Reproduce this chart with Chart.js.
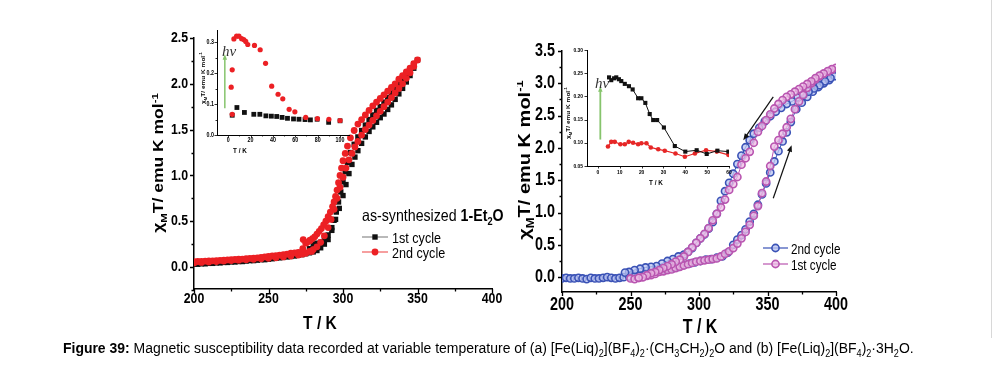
<!DOCTYPE html>
<html>
<head>
<meta charset="utf-8">
<title>Figure 39</title>
<script src="https://cdn.jsdelivr.net/npm/chart.js@4.4.1/dist/chart.umd.min.js"></script>
<style>
  html, body { margin: 0; padding: 0; background: #fff; }
  body { position: relative; width: 1001px; height: 377px; overflow: hidden; }
  canvas { position: absolute; }
  .t { position: absolute; white-space: nowrap; color: #000; line-height: 1; font-family: 'Liberation Sans', Arial, sans-serif; }
  .b { font-weight: bold; }
  .serif { font-family: 'Liberation Serif', 'DejaVu Serif', serif; font-style: italic; color: #333; }
  sub, sup { font-size: 65%; line-height: 0; }
  #clipR { position: absolute; left: 517px; top: 0; width: 40px; height: 330px; overflow: hidden; }
  #edge { position: absolute; left: 991px; top: 0; width: 1px; height: 338px; background: #d8d8d8; }
  #caption { left: 63px; top: 340px; font-size: 15.5px; transform: scaleX(0.9); transform-origin: 0 0; }
</style>
</head>
<body>
<canvas id="mainA" width="412" height="330" style="left:100px;top:10px"></canvas>
<canvas id="insetA" width="165" height="135" style="left:190px;top:22px"></canvas>
<canvas id="mainB" width="345" height="330" style="left:515px;top:10px"></canvas>
<canvas id="insetB" width="175" height="145" style="left:560px;top:40px"></canvas>
<div id="clipR"></div>
<div id="edge"></div>
<div id="caption" class="t"><b>Figure 39:</b> Magnetic susceptibility data recorded at variable temperature of (a) [Fe(Liq)<sub>2</sub>](BF<sub>4</sub>)<sub>2</sub>·(CH<sub>3</sub>CH<sub>2</sub>)<sub>2</sub>O and (b) [Fe(Liq)<sub>2</sub>](BF<sub>4</sub>)<sub>2</sub>·3H<sub>2</sub>O.</div>
<script>
// ---- tick labels ----
const xTicksMain = [200, 250, 300, 350, 400];
const xMinorMain = [225, 275, 325, 375];
const yTicksA = [0, 0.5, 1, 1.5, 2, 2.5];
const yMinorA = [-0.25, 0.25, 0.75, 1.25, 1.75, 2.25];
const yTicksB = [0, 0.5, 1, 1.5, 2, 2.5, 3, 3.5];
const yMinorB = [0.25, 0.75, 1.25, 1.75, 2.25, 2.75, 3.25];
const xTicksInsetA = [0, 20, 40, 60, 80, 100];
const xMinorInsetA = [10, 30, 50, 70, 90];
const yTicksInsetA = [0, 0.1, 0.2, 0.3];
const yMinorInsetA = [0.05, 0.15, 0.25];
const xTicksInsetB = [0, 10, 20, 30, 40, 50, 60];
const yTicksInsetB = [0.05, 0.1, 0.15, 0.2, 0.25, 0.3];

// ---- (a) main: 1st cycle (black squares) ----
const tCycle1A = [200,202.5,205,207.5,210,212.5,215,217.5,220,222.5,225,227.5,230,232.5,235,237.5,240,242.5,245,247.5,
  250,252.5,255,257.5,260,262.5,265,267.5,270,272.5,275,277.5,280,282.5,285,287.5,
  290,292.5,295,297.5,300,302,304,306,308,310,312.5,315,317.5,320,322.5,325,327.5,330,332.5,335,337.5,340,342.5,345,347.5,350,
  347.5,345,342.5,340,337.5,335,332.5,330,327.5,325,322.5,320,317.5,315,312.5,310,307.5,305,303,301.5,300,298.5,297,295.5,294,292.5,290,287.5,285,282.5,280,277.5];
const chiCycle1A = [0.03,0.03,0.035,0.035,0.04,0.04,0.045,0.045,0.05,0.05,0.055,0.055,0.06,0.06,0.065,0.07,0.07,0.075,0.08,0.08,
  0.085,0.09,0.095,0.10,0.105,0.11,0.115,0.12,0.13,0.135,0.145,0.155,0.165,0.18,0.21,0.25,
  0.30,0.40,0.52,0.64,0.78,0.90,1.02,1.12,1.20,1.27,1.35,1.42,1.48,1.53,1.58,1.63,1.67,1.72,1.77,1.83,1.89,1.95,2.02,2.09,2.17,2.26,
  2.22,2.16,2.10,2.05,2.00,1.95,1.90,1.85,1.80,1.75,1.71,1.66,1.61,1.55,1.49,1.42,1.34,1.25,1.14,1.04,0.93,0.82,0.71,0.60,0.51,0.43,0.35,0.30,0.27,0.26,0.25,0.20];

// ---- (a) main: 2nd cycle (red circles) ----
const tCycle2A = [200,205,210,215,220,225,230,235,240,245,250,255,260,265,270,272.5,275,277.5,280,282.5,285,287.5,290,
  292,294,296,298,300,302,304,306,308,310,312.5,315,317.5,320,322.5,325,327.5,330,332.5,335,337.5,340,342.5,345,347.5,350,
  273.3,277.7,278.9,273,275,
  347.5,345,342.5,340,337.5,335,332.5,330,327.5,325,322.5,320,317.5,315,312.5,310,307.5,305,303,301.5,
  300,299,298,297,296,295,294,293,291.5,290,288.5,287,285.5,284,282.5,281,279.5,278,276,270,
  267.5,265,262.5,260,257.5,255,252.5,250,247.5,245,242.5,240,237.5,235,232.5,230,227.5,225,222.5,220,
  217.5,215,212.5,210,207.5,205,202.5,200];
const chiCycle2A = [0.045,0.05,0.055,0.06,0.065,0.07,0.075,0.08,0.085,0.09,0.095,0.10,0.11,0.12,0.13,0.14,0.15,0.17,0.19,0.22,0.27,0.34,0.43,
  0.52,0.63,0.75,0.87,0.98,1.08,1.17,1.24,1.31,1.37,1.44,1.50,1.55,1.60,1.65,1.70,1.75,1.80,1.85,1.90,1.95,2.00,2.06,2.12,2.19,2.26,
  0.30,0.29,0.17,0.20,0.26,
  2.22,2.17,2.13,2.09,2.05,2.00,1.96,1.92,1.88,1.84,1.80,1.76,1.71,1.66,1.61,1.56,1.49,1.41,1.32,1.24,
  1.16,1.08,1.00,0.92,0.84,0.77,0.71,0.66,0.60,0.55,0.50,0.46,0.42,0.39,0.36,0.33,0.31,0.29,0.27,0.16,
  0.155,0.15,0.14,0.135,0.13,0.125,0.12,0.115,0.11,0.105,0.10,0.097,0.094,0.09,0.087,0.085,0.082,0.08,0.077,0.075,
  0.072,0.07,0.068,0.066,0.064,0.062,0.06,0.058];

// ---- (a) inset, low temperature ----
const tInsetA1 = [3.6,7.8,14.5,22.9,28.3,33.7,38.6,43.4,48.2,53,58.4,63.3,68.7,73.5,79.5,89.8,100];
const chiInsetA1 = [0.064,0.089,0.073,0.067,0.067,0.062,0.061,0.06,0.057,0.054,0.052,0.051,0.05,0.049,0.051,0.041,0.046];
const tInsetA2 = [2.7,3.6,3.6,5.1,7.5,9.6,12,13.9,15.7,17.5,23.5,28.6,33.4,38.9,44.6,48.8,54.5,59.6,69.3,79.8,90,100];
const chiInsetA2 = [0.155,0.211,0.067,0.311,0.32,0.32,0.312,0.309,0.303,0.293,0.29,0.276,0.232,0.158,0.132,0.117,0.083,0.075,0.057,0.053,0.051,0.047];

// ---- (b) main: 2nd cycle (blue) ----
const tCycle2B = [200,203,206,209,212,215,218,221,224,227,230,233,236,239,242,245,249,253,257,261,
  265,269,273,277,281,285,289,293,297,301,305,309,313,317,321,325,328,331,334,337,
  340,343,346,349,352,355,358,361,364,367,371,375,379,383,387,391,395,399,
  396,392,388,384,380,376,372,368,364,360,356,352,348,344,340,337,334,331,328,325,
  322,319,316,313,310,307,304,301,298,295,292,289,285,281,277,273,269,265,261,257,253,249,246];
const chiCycle2B = [-0.02,-0.01,-0.02,-0.02,-0.01,-0.02,-0.03,-0.01,-0.02,-0.02,-0.01,0.0,-0.01,-0.02,-0.01,0.0,0.01,0.02,0.03,0.05,
  0.06,0.08,0.10,0.12,0.14,0.16,0.19,0.21,0.23,0.25,0.27,0.28,0.30,0.32,0.38,0.50,0.58,0.65,0.74,0.86,
  0.98,1.12,1.28,1.45,1.62,1.79,1.95,2.10,2.24,2.40,2.60,2.70,2.79,2.87,2.94,3.00,3.05,3.11,
  3.08,3.03,2.97,2.92,2.87,2.83,2.78,2.72,2.68,2.62,2.56,2.49,2.41,2.31,2.22,2.12,2.01,1.88,1.75,1.60,
  1.46,1.33,1.18,0.98,0.85,0.75,0.66,0.60,0.53,0.45,0.39,0.35,0.32,0.28,0.25,0.21,0.17,0.16,0.15,0.13,0.11,0.08,0.07];

// ---- (b) main: 1st cycle (magenta) ----
const tCycle1B = [250,253,256,259,262,265,268,271,274,277,280,283,286,289,292,295,298,301,304,307,
  310,313,316,319,322,325,328,331,334,337,340,343,346,349,352,355,358,361,364,367,
  370,373,376,379,382,385,388,391,394,397,400,
  397,394,391,388,385,382,379,376,373,370,367,364,361,358,355,352,349,346,343,340,
  337,334,331,328,325,322,319,316,313,310,307,304,301,298,295,292,289,286,283,280,277,274,271,268,265,262,259,256];
const chiCycle1B = [-0.02,-0.03,-0.01,0.0,0.02,0.03,0.05,0.08,0.09,0.11,0.12,0.14,0.16,0.18,0.20,0.22,0.24,0.25,0.26,0.27,
  0.28,0.29,0.32,0.36,0.40,0.45,0.52,0.60,0.70,0.81,0.95,1.10,1.30,1.48,1.72,2.02,2.12,2.22,2.32,2.45,
  2.60,2.72,2.82,2.93,3.00,3.06,3.11,3.15,3.18,3.21,3.24,
  3.22,3.19,3.15,3.12,3.08,3.03,2.99,2.95,2.91,2.87,2.83,2.79,2.74,2.68,2.61,2.52,2.43,2.34,2.25,2.08,
  1.94,1.84,1.74,1.55,1.44,1.35,1.20,1.08,0.98,0.88,0.76,0.67,0.60,0.53,0.46,0.39,0.32,0.27,0.24,0.20,0.17,0.14,0.11,0.08,0.06,0.03,0.0,-0.01];

// ---- (b) inset, low temperature ----
const tInsetB1 = [5.1,6.1,7.4,8.4,9.6,10.7,12.3,14.2,15.9,18.4,19.9,21.7,23.7,25.3,27.1,30.2,35.2,40,45.2,49.8,54.7,59.7];
const chiInsetB1 = [0.241,0.235,0.239,0.241,0.237,0.233,0.227,0.222,0.215,0.196,0.196,0.186,0.162,0.149,0.149,0.133,0.093,0.081,0.084,0.076,0.083,0.081];
const tInsetB2 = [4.6,6.1,7.7,10.3,12.3,14.1,16.1,18.4,19.9,22.2,24.2,27.6,30.6,35.5,39.8,44.4,49.5,54.4,59.7];
const chiInsetB2 = [0.092,0.102,0.102,0.097,0.097,0.102,0.100,0.097,0.099,0.099,0.090,0.086,0.083,0.077,0.070,0.077,0.084,0.081,0.074];

const SANS = "'Liberation Sans', Arial, sans-serif";
const SQUEEZE = 0.82; // the figure's lettering is condensed
const pts = (xs, ys) => xs.map((x, i) => ({ x, y: ys[i] }));

// tick marks and condensed tick labels, placed with the chart's own scales
const axisDecor = {
  id: 'axisDecor',
  afterDraw(chart, args, o) {
    const ctx = chart.ctx, a = chart.chartArea, xs = chart.scales.x, ys = chart.scales.y;
    ctx.save();
    ctx.strokeStyle = '#000';
    ctx.lineWidth = o.width;
    ctx.beginPath();
    const vx = (list, len) => list.forEach(v => {
      const p = Math.round(xs.getPixelForValue(v)) + 0.5;
      ctx.moveTo(p, a.bottom); ctx.lineTo(p, a.bottom + len);
    });
    const vy = (list, len) => list.forEach(v => {
      const p = Math.round(ys.getPixelForValue(v)) + 0.5;
      ctx.moveTo(a.left, p); ctx.lineTo(a.left - len, p);
    });
    vx(o.xMajor || [], o.major); vx(o.xMinor || [], o.minor);
    vy(o.yMajor || [], o.major); vy(o.yMinor || [], o.minor);
    ctx.stroke();

    ctx.fillStyle = '#000';
    ctx.font = `bold ${o.font}px ${SANS}`;
    xs.ticks.forEach(t => {
      ctx.save();
      ctx.translate(xs.getPixelForValue(t.value), a.bottom + o.xPad);
      ctx.scale(SQUEEZE, 1);
      ctx.textAlign = 'center'; ctx.textBaseline = 'top';
      ctx.fillText(t.value.toFixed(o.xDec), 0, 0);
      ctx.restore();
    });
    ys.ticks.forEach(t => {
      ctx.save();
      ctx.translate(a.left - o.yPad, ys.getPixelForValue(t.value));
      ctx.scale(SQUEEZE, 1);
      ctx.textAlign = 'right'; ctx.textBaseline = 'middle';
      ctx.fillText(t.value.toFixed(o.yDec), 0, 0);
      ctx.restore();
    });
    ctx.restore();
  }
};

// arrows given in data units
const arrows = {
  id: 'arrows',
  afterDatasetsDraw(chart, args, o) {
    const ctx = chart.ctx, xs = chart.scales.x, ys = chart.scales.y;
    (o.items || []).forEach(a => {
      const x0 = xs.getPixelForValue(a.from[0]), y0 = ys.getPixelForValue(a.from[1]);
      const x1 = xs.getPixelForValue(a.to[0]), y1 = ys.getPixelForValue(a.to[1]);
      const ang = Math.atan2(y1 - y0, x1 - x0), h = a.head;
      ctx.save();
      ctx.strokeStyle = a.color; ctx.fillStyle = a.color; ctx.lineWidth = a.width;
      ctx.beginPath();
      ctx.moveTo(x0, y0);
      ctx.lineTo(x1 - Math.cos(ang) * h * 0.7, y1 - Math.sin(ang) * h * 0.7);
      ctx.stroke();
      ctx.beginPath();
      ctx.moveTo(x1, y1);
      ctx.lineTo(x1 - h * Math.cos(ang - 0.38), y1 - h * Math.sin(ang - 0.38));
      ctx.lineTo(x1 - h * Math.cos(ang + 0.38), y1 - h * Math.sin(ang + 0.38));
      ctx.closePath();
      ctx.fill();
      ctx.restore();
    });
  }
};

function drawMark(ctx, ds, x, y) {
  const r = ds.pointRadius;
  ctx.fillStyle = ds.pointBackgroundColor;
  ctx.strokeStyle = ds.pointBorderColor;
  ctx.lineWidth = ds.pointBorderWidth;
  ctx.beginPath();
  if (ds.pointStyle === 'rect') {
    const s = r * Math.SQRT1_2;
    ctx.rect(x - s, y - s, 2 * s, 2 * s);
  } else {
    ctx.arc(x, y, r, 0, Math.PI * 2);
  }
  ctx.fill();
  if (ds.pointBorderWidth) ctx.stroke();
}

// legend samples (line + marker); the words are html
const legendMarks = {
  id: 'legendMarks',
  afterDraw(chart, args, o) {
    const ctx = chart.ctx;
    (o.items || []).forEach(it => {
      const ds = chart.data.datasets[it.dataset];
      ctx.save();
      ctx.strokeStyle = it.lineColor;
      ctx.lineWidth = 1.2;
      ctx.beginPath();
      ctx.moveTo(it.x0, it.y); ctx.lineTo(it.x1, it.y);
      ctx.stroke();
      drawMark(ctx, ds, (it.x0 + it.x1) / 2, it.y);
      ctx.restore();
    });
  }
};

function scales(o) {
  const axis = (min, max, ticks, fit) => ({
    type: 'linear', min, max, bounds: 'data',
    afterBuildTicks: s => { s.ticks = ticks.map(v => ({ value: v })); },
    afterFit: fit,
    ticks: { display: false },
    grid: { display: false, drawTicks: false },
    border: { display: true, color: '#000', width: o.bw }
  });
  return {
    x: axis(o.xMin, o.xMax, o.xTicks, s => { s.height = o.xH; }),
    y: axis(o.yMin, o.yMax, o.yTicks, s => { s.width = o.yW; })
  };
}

function make(id, datasets, sc, padding, extra) {
  return new Chart(document.getElementById(id), {
    type: 'scatter',
    data: { datasets },
    options: {
      responsive: false, animation: false, events: [],
      layout: { padding },
      scales: sc,
      plugins: Object.assign({ legend: { display: false }, tooltip: { enabled: false } }, extra)
    },
    plugins: [axisDecor, arrows, legendMarks]
  });
}

// (a) main
make('mainA', [
  { data: pts(tCycle2A, chiCycle2A), order: 0, showLine: false, pointStyle: 'circle', pointRadius: 3.4,
    pointBackgroundColor: '#ec2024', pointBorderColor: '#ec2024', pointBorderWidth: 0 },
  { data: pts(tCycle1A, chiCycle1A), order: 1, showLine: false, pointStyle: 'rect', pointRadius: 3.8,
    pointBackgroundColor: '#111', pointBorderColor: '#111', pointBorderWidth: 0 }
], scales({ xMin: 200, xMax: 400, yMin: -0.24, yMax: 2.5, xTicks: xTicksMain, yTicks: yTicksA, xH: 51, yW: 94, bw: 1.5 }),
  { left: 0, right: 20, top: 28, bottom: 0 },
  { axisDecor: { xMajor: xTicksMain, xMinor: xMinorMain, yMajor: yTicksA, yMinor: yMinorA, major: 4, minor: 2.5, width: 1.3,
      font: 15, xPad: 2, yPad: 6, xDec: 0, yDec: 1 },
    legendMarks: { items: [
      { dataset: 1, x0: 262, x1: 288, y: 227, lineColor: '#8a8a8a' },
      { dataset: 0, x0: 262, x1: 288, y: 242, lineColor: '#f06060' }
    ] } });

// (a) inset
make('insetA', [
  { data: pts(tInsetA2, chiInsetA2), order: 0, showLine: false, pointStyle: 'circle', pointRadius: 2.6,
    pointBackgroundColor: '#ec2024', pointBorderColor: '#ec2024', pointBorderWidth: 0 },
  { data: pts(tInsetA1, chiInsetA1), order: 1, showLine: false, pointStyle: 'rect', pointRadius: 3.4,
    pointBackgroundColor: '#111', pointBorderColor: '#111', pointBorderWidth: 0 }
], scales({ xMin: -10, xMax: 108, yMin: 0, yMax: 0.34, xTicks: xTicksInsetA, yTicks: yTicksInsetA, xH: 22, yW: 27, bw: 1 }),
  { left: 0, right: 6, top: 8, bottom: 0 },
  { axisDecor: { xMajor: xTicksInsetA, xMinor: xMinorInsetA, yMajor: yTicksInsetA, yMinor: yMinorInsetA, major: 2.5, minor: 1.5, width: 0.8,
      font: 6.5, xPad: 2, yPad: 3, xDec: 0, yDec: 1 },
    arrows: { items: [{ from: [-3, 0.087], to: [-3, 0.262], color: '#86c46c', width: 1.5, head: 6 }] } });

// (b) main
make('mainB', [
  { data: pts(tCycle1B, chiCycle1B), order: 0, showLine: true, borderColor: '#b955b0', borderWidth: 1,
    pointStyle: 'circle', pointRadius: 3.6, pointBackgroundColor: 'rgba(236,190,230,0.75)',
    pointBorderColor: '#b955b0', pointBorderWidth: 1.6 },
  { data: pts(tCycle2B, chiCycle2B), order: 1, showLine: true, borderColor: '#3a52b6', borderWidth: 1,
    pointStyle: 'circle', pointRadius: 3.6, pointBackgroundColor: 'rgba(185,195,240,0.75)',
    pointBorderColor: '#3a52b6', pointBorderWidth: 1.6 }
], scales({ xMin: 200, xMax: 400, yMin: -0.23, yMax: 3.5, xTicks: xTicksMain, yTicks: yTicksB, xH: 48, yW: 47, bw: 1.5 }),
  { left: 0, right: 24, top: 41, bottom: 0 },
  { axisDecor: { xMajor: xTicksMain, xMinor: xMinorMain, yMajor: yTicksB, yMinor: yMinorB, major: 4, minor: 2.5, width: 1.3,
      font: 17.5, xPad: 4, yPad: 7, xDec: 0, yDec: 1 },
    arrows: { items: [
      { from: [354.2, 2.79], to: [332.3, 2.12], color: '#111', width: 1.2, head: 7 },
      { from: [354.2, 1.22], to: [367.6, 2.04], color: '#111', width: 1.2, head: 7 }
    ] },
    legendMarks: { items: [
      { dataset: 1, x0: 248, x1: 273, y: 238, lineColor: '#3a52b6' },
      { dataset: 0, x0: 248, x1: 273, y: 254, lineColor: '#b955b0' }
    ] } });

// (b) inset
make('insetB', [
  { data: pts(tInsetB1, chiInsetB1), order: 0, showLine: true, borderColor: '#111', borderWidth: 1,
    pointStyle: 'rect', pointRadius: 2.9, pointBackgroundColor: '#111', pointBorderColor: '#111', pointBorderWidth: 0 },
  { data: pts(tInsetB2, chiInsetB2), order: 1, showLine: true, borderColor: '#e62626', borderWidth: 1.2,
    pointStyle: 'circle', pointRadius: 2.3, pointBackgroundColor: '#e62626', pointBorderColor: '#e62626', pointBorderWidth: 0 }
], scales({ xMin: -5, xMax: 60, yMin: 0.05, yMax: 0.30, xTicks: xTicksInsetB, yTicks: yTicksInsetB, xH: 19, yW: 27, bw: 1 }),
  { left: 0, right: 6, top: 10, bottom: 0 },
  { axisDecor: { xMajor: xTicksInsetB, yMajor: yTicksInsetB, major: 2.5, minor: 1.5, width: 0.8,
      font: 6, xPad: 3, yPad: 4, xDec: 0, yDec: 2 },
    arrows: { items: [{ from: [1.1, 0.107], to: [1.1, 0.222], color: '#86c46c', width: 1.8, head: 6 }] } });

// ---- text: axis titles, legends, hv ----
function label(html, x, y, size, cls, mode, sq, parent) {
  const d = document.createElement('div');
  d.className = 't ' + cls;
  d.innerHTML = html;
  d.style.fontSize = size + 'px';
  d.style.left = x + 'px';
  d.style.top = y + 'px';
  if (mode === 'rot') {
    d.style.transform = `translate(-50%,-50%) rotate(-90deg) scaleY(${sq})`;
  } else if (mode === 'left') {
    d.style.transformOrigin = '0 50%';
    d.style.transform = `translate(0,-50%) scaleX(${sq})`;
  } else {
    d.style.transform = `translate(-50%,-50%) scaleX(${sq})`;
  }
  (parent || document.body).appendChild(d);
}
const yTitle = '&chi;<sub>M</sub>T/ emu K mol<sup>-1</sup>';
label(yTitle, 159, 163, 17.5, 'b', 'rot', 0.85);
label('T / K', 320, 322, 19, 'b', 'c', 0.82);
label(yTitle, 7, 160, 20, 'b', 'rot', 0.85, document.getElementById('clipR'));
label('T / K', 700, 326, 20, 'b', 'c', 0.8);
label(yTitle, 203, 78, 6.5, 'b', 'rot', 0.9);
label('T / K', 240, 151, 7.5, 'b', 'c', 0.85);
label(yTitle, 568, 113, 6.5, 'b', 'rot', 0.9);
label('T / K', 656, 183, 7.5, 'b', 'c', 0.85);
label('hν', 229, 51, 15, 'serif', 'c', 1);
label('hν', 602, 83, 15, 'serif', 'c', 1);
label('as-synthesized <b>1-Et<sub>2</sub>O</b>', 362, 215, 16.5, '', 'left', 0.86);
label('1st cycle', 392, 237, 15, '', 'left', 0.84);
label('2nd cycle', 392, 252, 15, '', 'left', 0.84);
label('2nd cycle', 791, 248, 15, '', 'left', 0.78);
label('1st cycle', 791, 264, 15, '', 'left', 0.78);
</script>
</body>
</html>
